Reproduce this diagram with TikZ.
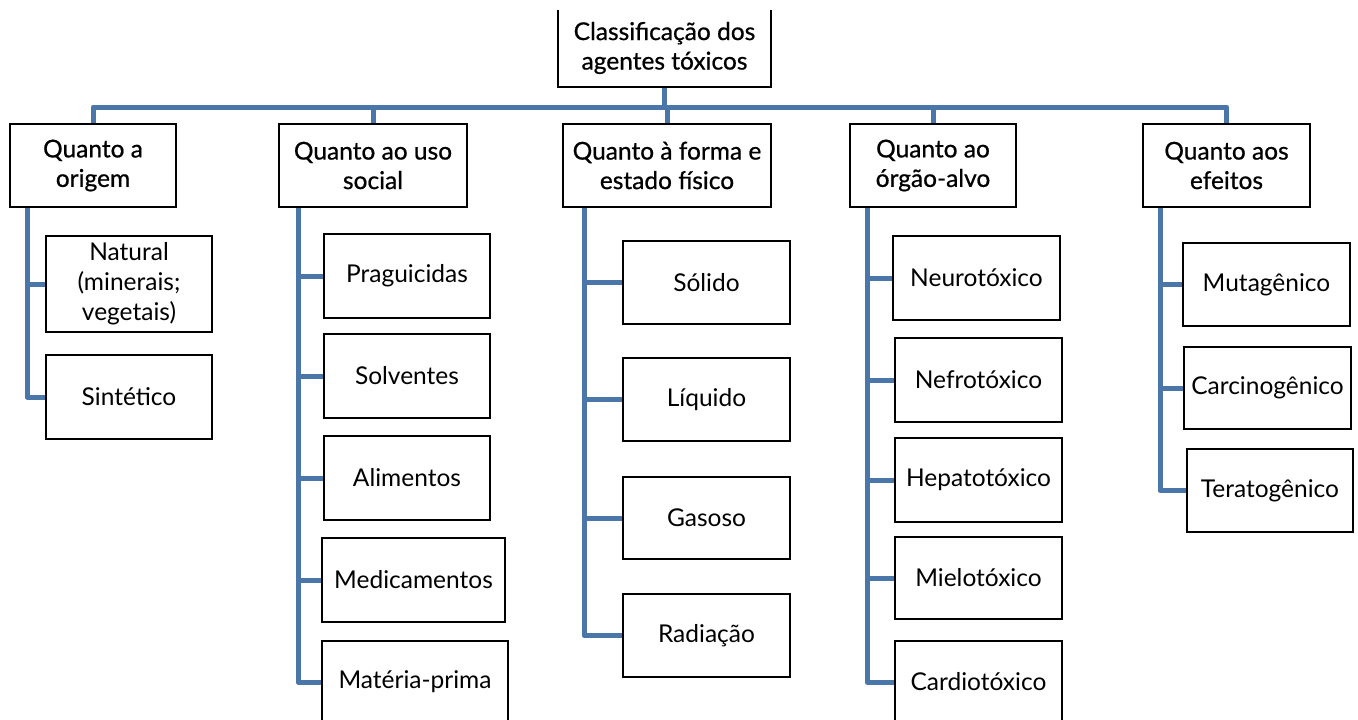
\documentclass[tikz,border=0pt]{standalone}
\usepackage{fontspec}
\setmainfont{Lato}
\newfontfamily\headfont[FakeBold=0.7]{Lato}
\definecolor{linkblue}{RGB}{74,118,170}
\tikzset{
  px/.style={x=1pt,y=-1pt},
  conn/.style={draw=linkblue,line width=5pt,line join=round},
  tbox/.style={draw=black,line width=1.3pt,fill=white,inner sep=0pt,align=center,font=\fontsize{24.5}{30}\selectfont},
  hbox/.style={tbox,font=\headfont\fontsize{24.5}{29.5}\selectfont},
}
\newcommand{\bx}[7]{% name, x1, x2, y1, y2, style, text
  \node[#6,minimum width={#3-#2},minimum height={#5-#4}] (#1) at ({(#2+#3)/2},{(#4+#5)/2}) {#7};}
\begin{document}
\begin{tikzpicture}[px]
\useasboundingbox (0,0) rectangle (1358,720);
\fill[white] (0,0) rectangle (1358,720);
\clip (0,10.5) rectangle (1358,720);
% root
\bx{root}{558}{771}{9}{87}{hbox}{Classificação dos\\agentes tóxicos}
% headers
\bx{A}{10}{176}{124}{207}{hbox}{Quanto a\\origem}
\bx{B}{279}{467}{124}{207}{hbox}{Quanto ao uso\\social}
\bx{C}{563}{771}{124}{207}{hbox}{Quanto à forma e\\estado físico}
\bx{D}{850}{1016}{124}{207}{hbox}{Quanto ao\\órgão-alvo}
\bx{E}{1143}{1310}{124}{207}{hbox}{Quanto aos\\efeitos}
% children A
\bx{Anat}{46}{212}{236}{332}{tbox}{Natural\\(minerais;\\vegetais)}
\bx{Asin}{46}{212}{355}{439}{tbox}{Sintético}
% children B
\bx{Bpra}{324}{490}{234}{318}{tbox}{Praguicidas}
\bx{Bsol}{324}{490}{334}{418}{tbox}{Solventes}
\bx{Bali}{324}{490}{436}{520}{tbox}{Alimentos}
\bx{Bmed}{322}{505}{538}{622}{tbox}{Medicamentos}
\bx{Bmat}{322}{508}{641}{723}{tbox}{Matéria-prima}
% children C
\bx{Csol}{623}{790}{241}{324}{tbox}{Sólido}
\bx{Cliq}{623}{790}{358}{441}{tbox}{Líquido}
\bx{Cgas}{623}{790}{477}{559}{tbox}{Gasoso}
\bx{Crad}{623}{790}{594}{677}{tbox}{Radiação}
% children D
\bx{Dneu}{893}{1060}{236}{320}{tbox}{Neurotóxico}
\bx{Dnef}{895}{1062}{338}{422}{tbox}{Nefrotóxico}
\bx{Dhep}{895}{1062}{438}{522}{tbox}{Hepatotóxico}
\bx{Dmie}{895}{1062}{537}{619}{tbox}{Mielotóxico}
\bx{Dcar}{895}{1062}{641}{723}{tbox}{Cardiotóxico}
% children E
\bx{Emut}{1183}{1350}{243}{326}{tbox}{Mutagênico}
\bx{Ecar}{1184}{1351}{347}{429}{tbox}{Carcinogênico}
\bx{Eter}{1187}{1353}{449}{532}{tbox}{Teratogênico}
% bus
\coordinate (bus) at (0,107);
\draw[conn] (A.north) -- (A.north |- bus) -- (E.north |- bus) -- (E.north);
\draw[conn] (root.south) -- (root.south |- bus);
\foreach \h in {B,C,D} \draw[conn] (\h.north) -- (\h.north |- bus);
% spines
\coordinate (As) at (27,207);
\coordinate (Bs) at (298,207);
\coordinate (Cs) at (584,207);
\coordinate (Ds) at (867,207);
\coordinate (Es) at (1160,207);
\foreach \c in {Anat,Asin} \draw[conn] (As) |- (\c.west);
\foreach \c in {Bpra,Bsol,Bali,Bmed,Bmat} \draw[conn] (Bs) |- (\c.west);
\foreach \c in {Csol,Cliq,Cgas,Crad} \draw[conn] (Cs) |- (\c.west);
\foreach \c in {Dneu,Dnef,Dhep,Dmie,Dcar} \draw[conn] (Ds) |- (\c.west);
\foreach \c in {Emut,Ecar,Eter} \draw[conn] (Es) |- (\c.west);
% redraw box borders above connectors
\foreach \n in {root,A,B,C,D,E,Anat,Asin,Bpra,Bsol,Bali,Bmed,Bmat,Csol,Cliq,Cgas,Crad,Dneu,Dnef,Dhep,Dmie,Dcar,Emut,Ecar,Eter}
  \draw[black,line width=1.3pt] (\n.south west) rectangle (\n.north east);
\end{tikzpicture}
\end{document}
